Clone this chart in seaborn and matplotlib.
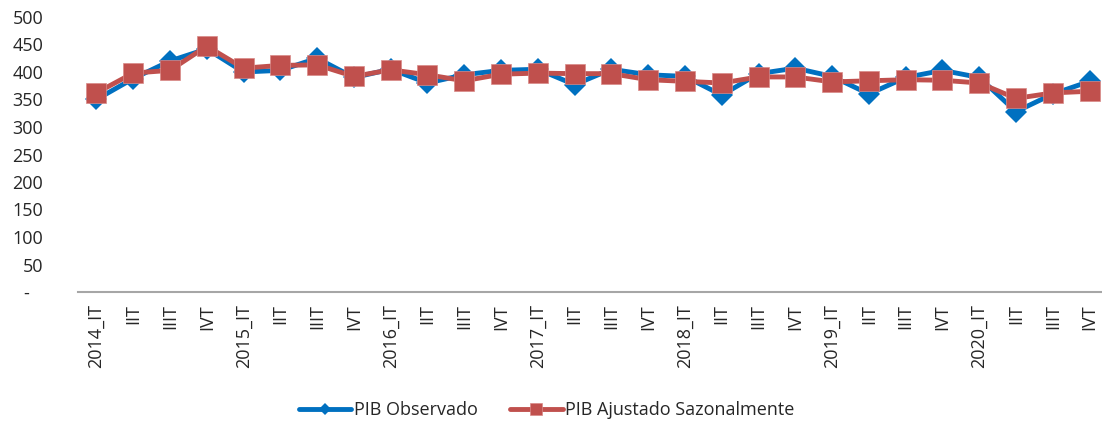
import matplotlib
matplotlib.use('Agg')
import matplotlib.pyplot as plt
import seaborn as sns
import pandas as pd

years = ['2014', '2015', '2016', '2017', '2018', '2019', '2020']
quarters = ['IT', 'IIT', 'IIIT', 'IVT']
labels = []
for y in years:
    for q in quarters:
        labels.append('{}_{}'.format(y, q) if q == 'IT' else q)

pib_observado = [350, 388, 420, 442, 400, 403, 425, 390, 405, 380, 395, 403, 405, 377,
                 405, 395, 392, 358, 397, 407, 392, 360, 390, 403, 390, 328, 360, 383]
pib_ajustado = [362, 398, 403, 447, 407, 412, 413, 392, 404, 395, 384, 396, 398, 397,
                397, 386, 383, 380, 391, 391, 382, 384, 386, 385, 380, 352, 362, 365]

df = pd.DataFrame({'pos': range(len(labels)), 'obs': pib_observado, 'adj': pib_ajustado})

sns.set_style('white')
plt.rcParams['font.family'] = ['Open Sans', 'DejaVu Sans']

fig = plt.figure(figsize=(11.02, 4.24), dpi=100)
ax = fig.add_axes([78 / 1102, 1 - 292 / 424, 1030 / 1102, 275 / 424])

sns.lineplot(data=df, x='pos', y='obs', ax=ax, color='#0070C0', lw=3.5,
             marker='D', markersize=11, markeredgewidth=0, label='PIB Observado')
sns.lineplot(data=df, x='pos', y='adj', ax=ax, color='#C0504D', lw=3.5,
             marker='s', markersize=14, markeredgewidth=0.5, markeredgecolor='#D98A88',
             label='PIB Ajustado Sazonalmente')

ax.set_xlim(-0.5, len(labels) - 0.5)
ax.set_ylim(0, 500)
ax.set_yticks(range(0, 501, 50))
ax.set_yticklabels(['-   '] + [str(v) for v in range(50, 501, 50)], fontsize=13)
ax.set_xticks(range(len(labels)))
ax.set_xticklabels(labels, rotation=90, fontsize=13)
ax.tick_params(axis='x', length=0, pad=9)
ax.tick_params(axis='y', length=0, pad=25)
ax.set_xlabel('')
ax.set_ylabel('')

for s in ['top', 'right', 'left']:
    ax.spines[s].set_visible(False)
ax.spines['bottom'].set_color('#A6A6A6')
ax.spines['bottom'].set_linewidth(1.5)

ax.legend(loc='center', bbox_to_anchor=(0.455, -118 / 275), ncol=2, frameon=False,
          fontsize=13, handlelength=2.9, handletextpad=0.15, columnspacing=1.8,
          markerscale=0.6)

fig.savefig('out.png', dpi=100)
